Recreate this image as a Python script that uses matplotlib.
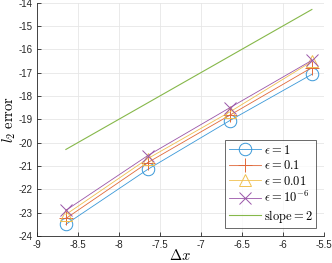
import matplotlib
matplotlib.use("Agg")
import matplotlib.pyplot as plt
import numpy as np

# log2 of grid spacing
dx_log = [-8.644, -7.644, -6.644, -5.644]

err_eps1 = [-23.50, -21.14, -19.05, -17.07]
err_eps01 = [-23.25, -20.85, -18.82, -16.78]
err_eps001 = [-23.08, -20.68, -18.68, -16.52]
err_eps1e6 = [-22.90, -20.55, -18.50, -16.47]

slope_x = [-8.644, -5.644]
slope_y = [-20.29, -14.29]

plt.rcParams["mathtext.fontset"] = "cm"
plt.rcParams["font.family"] = ["Liberation Sans", "DejaVu Sans"]

fig = plt.figure(figsize=(3.32, 2.63), dpi=100)
ax = fig.add_axes([0.1105, 0.1027, 0.8645, 0.887])

# slightly lighter than MATLAB defaults, since the thin lines look paler
c_blue, c_orange, c_yellow = "#3a98d8", "#e0693a", "#f0c050"
c_purple, c_green = "#9a55a8", "#86b84a"

ax.plot(dx_log, err_eps1, color=c_blue, marker="o", markersize=9,
        markerfacecolor="none", lw=0.6, mew=0.7, label=r"$\epsilon = 1$")
ax.plot(dx_log, err_eps01, color=c_orange, marker="+", markersize=10,
        lw=0.6, mew=0.7, label=r"$\epsilon = 0.1$")
ax.plot(dx_log, err_eps001, color=c_yellow, marker="^", markersize=9,
        markerfacecolor="none", lw=0.6, mew=0.7, label=r"$\epsilon = 0.01$")
ax.plot(dx_log, err_eps1e6, color=c_purple, marker="x", markersize=8,
        lw=0.6, mew=0.7, label=r"$\epsilon = 10^{-6}$")
ax.plot(slope_x, slope_y, color=c_green, lw=0.8, label=r"$\mathrm{slope} = 2$")

ax.set_xlim(-9, -5.5)
ax.set_ylim(-24, -14)
ax.set_xticks(np.arange(-9, -5.4, 0.5))
ax.set_xticklabels(["-9", "-8.5", "-8", "-7.5", "-7", "-6.5", "-6", "-5.5"])
ax.set_yticks(range(-24, -13))
ax.set_yticklabels([str(v) for v in range(-24, -13)])

ax.grid(True, color="#e6e6e6", lw=0.6)
ax.set_axisbelow(True)
for side in ["top", "right"]:
    ax.spines[side].set_visible(False)
for side in ["left", "bottom"]:
    ax.spines[side].set_color("#262626")
    ax.spines[side].set_linewidth(0.6)
ax.tick_params(direction="in", length=3, width=0.6, colors="#262626",
               labelsize=7, pad=3)

ax.set_xlabel(r"$\Delta x$", fontsize=10.5, labelpad=-1.5)
ax.set_ylabel(r"$l_2\ \mathrm{error}$", fontsize=10.5, labelpad=0)

leg = ax.legend(loc="lower right", fontsize=9, frameon=True, fancybox=False,
                edgecolor="#262626", handlelength=2.6, handletextpad=0.2,
                borderpad=0.3, labelspacing=0.2, borderaxespad=0.6)
leg.get_frame().set_linewidth(0.6)

fig.savefig("out.png", dpi=100)
